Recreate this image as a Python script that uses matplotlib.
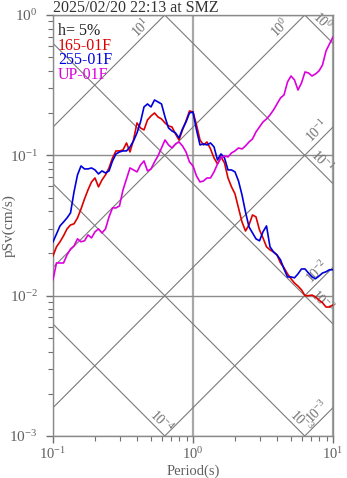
import numpy as np
import matplotlib
matplotlib.use("Agg")
import matplotlib.pyplot as plt
from matplotlib.ticker import LogLocator, NullFormatter

# ---------------- data ----------------
periods = [0.1000, 0.1059, 0.1122, 0.1189, 0.1259, 0.1334, 0.1413, 0.1496, 0.1585, 0.1679,
           0.1778, 0.1884, 0.1995, 0.2113, 0.2239, 0.2371, 0.2512, 0.2661, 0.2818, 0.2985,
           0.3162, 0.3350, 0.3548, 0.3758, 0.3981, 0.4217, 0.4467, 0.4732, 0.5012, 0.5309,
           0.5623, 0.5957, 0.6310, 0.6683, 0.7079, 0.7499, 0.7943, 0.8414, 0.8913, 0.9441,
           1.000, 1.059, 1.122, 1.189, 1.259, 1.334, 1.413, 1.496, 1.585, 1.679,
           1.778, 1.884, 1.995, 2.113, 2.239, 2.371, 2.512, 2.661, 2.818, 2.985,
           3.162, 3.350, 3.548, 3.758, 3.981, 4.217, 4.467, 4.732, 5.012, 5.309,
           5.623, 5.957, 6.310, 6.683, 7.079, 7.499, 7.943, 8.414, 8.913, 9.441,
           10.00]

psv_165 = [0.0192, 0.0223, 0.0242, 0.0267, 0.0299, 0.0319, 0.0325, 0.0358, 0.0415, 0.0489,
           0.0567, 0.0646, 0.0690, 0.0596, 0.0668, 0.0725, 0.0813, 0.0958, 0.1075, 0.1075,
           0.1093, 0.1225, 0.1057, 0.1287, 0.1701, 0.1567, 0.1517, 0.1787, 0.1909, 0.2004,
           0.1877, 0.1817, 0.1701, 0.1620, 0.1593, 0.1421, 0.1287, 0.1517, 0.1758, 0.2071,
           0.2038, 0.1646, 0.1287, 0.1186, 0.1245, 0.1110, 0.0958, 0.0868, 0.0974, 0.0883,
           0.0690, 0.0596, 0.0531, 0.0422, 0.0335, 0.0289, 0.0319, 0.0376, 0.0364, 0.0294,
           0.0258, 0.0223, 0.0212, 0.0205, 0.0195, 0.0171, 0.0158, 0.0143, 0.0132, 0.0123,
           0.0117, 0.0110, 0.0100, 0.0100, 0.0101, 0.0098, 0.0093, 0.0089, 0.0083, 0.0083,
           0.0086]

psv_255 = [0.0242, 0.0275, 0.0314, 0.0335, 0.0358, 0.0389, 0.0549, 0.0725, 0.0840, 0.0800,
           0.0800, 0.0813, 0.0787, 0.0737, 0.0774, 0.0749, 0.0774, 0.0912, 0.1023, 0.1057,
           0.1075, 0.1075, 0.1148, 0.1266, 0.1444, 0.1729, 0.2212, 0.2323, 0.2212, 0.2480,
           0.2401, 0.2323, 0.1877, 0.1567, 0.1492, 0.1444, 0.1330, 0.1542, 0.1729, 0.2004,
           0.2038, 0.1517, 0.1186, 0.1206, 0.1186, 0.1225, 0.1148, 0.0927, 0.1023, 0.0958,
           0.0787, 0.0787, 0.0762, 0.0657, 0.0522, 0.0395, 0.0309, 0.0280, 0.0254, 0.0246,
           0.0285, 0.0314, 0.0223, 0.0205, 0.0195, 0.0180, 0.0155, 0.0136, 0.0136, 0.0134,
           0.0143, 0.0155, 0.0155, 0.0145, 0.0136, 0.0132, 0.0138, 0.0145, 0.0148, 0.0153,
           0.0153]

psv_up = [0.0130, 0.0171, 0.0171, 0.0171, 0.0195, 0.0215, 0.0226, 0.0254, 0.0242, 0.0246,
          0.0271, 0.0258, 0.0285, 0.0299, 0.0280, 0.0299, 0.0364, 0.0422, 0.0422, 0.0436,
          0.0567, 0.0679, 0.0813, 0.0787, 0.0762, 0.0854, 0.0912, 0.0774, 0.0800, 0.0897,
          0.0990, 0.1129, 0.1287, 0.1186, 0.1129, 0.1206, 0.1245, 0.1167, 0.1057, 0.0897,
          0.0840, 0.0713, 0.0646, 0.0657, 0.0690, 0.0690, 0.0762, 0.0868, 0.0958, 0.0990,
          0.0974, 0.1040, 0.1075, 0.1129, 0.1110, 0.1167, 0.1245, 0.1309, 0.1468, 0.1593,
          0.1729, 0.1817, 0.1940, 0.2105, 0.2323, 0.2563, 0.2693, 0.3333, 0.3677, 0.3443,
          0.2922, 0.3279, 0.3927, 0.3863, 0.3677, 0.3800, 0.3994, 0.4404, 0.5540, 0.6220,
          0.6970]

series_names = ["165-01F", "255-01F", "UP-01F"]
series_colors = ["#dd0000", "#0000dd", "#dd00dd"]
damping_label = "h= 5%"
title = "2025/02/20 22:13 at SMZ"

# tripartite reference lines
accel_levels = [1e1, 1e0, 1e-1, 1e-2, 1e-3]        # cm/s^2
accel_labels = ["10$^{1}$", "10$^{0}$", "10$^{-1}$", "10$^{-2}$", "10$^{-3}$"]
disp_levels = [1e0, 1e-1, 1e-2, 1e-3, 1e-4]         # cm
disp_labels = ["10$^{0}$", "10$^{-1}$", "10$^{-2}$", "10$^{-3}$", "10$^{-4}$"]

# ---------------- style ----------------
plt.rcParams['font.family'] = ['Liberation Serif', 'DejaVu Serif']
plt.rcParams['mathtext.fontset'] = 'custom'
plt.rcParams['mathtext.rm'] = 'Liberation Serif'
plt.rcParams['mathtext.it'] = 'Liberation Serif:italic'
plt.rcParams['mathtext.bf'] = 'Liberation Serif:bold'

W, H = 347, 478
fig = plt.figure(figsize=(W / 100, H / 100), dpi=100)
ax = fig.add_axes([53 / W, 1 - 436 / H, 280 / W, 421 / H])

xmin, xmax, ymin, ymax = 0.1, 10.0, 1e-3, 1.0
ax.set_xscale('log')
ax.set_yscale('log')
ax.set_xlim(xmin, xmax)
ax.set_ylim(ymin, ymax)

gray_line = '#7a7a7a'
Tfine = np.logspace(-1, 1, 200)
two_pi = 2 * np.pi

# constant acceleration lines (slope +1)
for a, lab in zip(accel_levels, accel_labels):
    sv = a * Tfine / two_pi
    ax.plot(Tfine, sv, color=gray_line, lw=0.8, zorder=1)
    t_top = two_pi / a  # where Sv reaches top
    if t_top < xmax:
        tl = t_top * 0.74
    else:
        tl = xmax * 0.85
    ax.text(tl, a * tl / two_pi, lab, rotation=45, rotation_mode='anchor',
            ha='center', va='bottom', fontsize=10, color='#707070', zorder=2)

# constant displacement lines (slope -1)
for d, lab in zip(disp_levels, disp_labels):
    sv = two_pi * d / Tfine
    ax.plot(Tfine, sv, color=gray_line, lw=0.8, zorder=1)
    t_bot = two_pi * d / ymin  # where Sv reaches bottom
    if t_bot < xmax:
        tl = t_bot * 0.86
    else:
        tl = xmax * 0.76
    ax.text(tl, two_pi * d / tl, lab, rotation=-45, rotation_mode='anchor',
            ha='center', va='bottom', fontsize=10, color='#707070', zorder=2)

# grid
ax.xaxis.grid(True, which='major', color='#a8a8a8', lw=1.6, zorder=0)
ax.yaxis.grid(True, which='major', color='#8c8c8c', lw=1.0, zorder=0)
ax.set_axisbelow(True)

# spectra
for vals, c in zip([psv_165, psv_255, psv_up], series_colors):
    ax.plot(periods, vals, color=c, lw=1.2, zorder=3)

# ticks
ax.xaxis.set_major_locator(LogLocator(base=10, numticks=10))
ax.yaxis.set_major_locator(LogLocator(base=10, numticks=10))
ax.xaxis.set_minor_locator(LogLocator(base=10, subs=np.arange(2, 10), numticks=20))
ax.yaxis.set_minor_locator(LogLocator(base=10, subs=np.arange(2, 10), numticks=20))
ax.xaxis.set_minor_formatter(NullFormatter())
ax.yaxis.set_minor_formatter(NullFormatter())
ax.tick_params(which='both', direction='out', colors='#707070', labelcolor='#606060',
               labelsize=11, top=False, right=False)
ax.tick_params(which='major', length=5, width=1, pad=3)
ax.tick_params(which='minor', length=3.5, width=0.8)
ax.tick_params(axis='y', which='major', pad=6)
ax.tick_params(axis='x', which='major', pad=2, labelsize=10.5)

for s in ax.spines.values():
    s.set_color('#8a8a8a')
    s.set_linewidth(1.0)

ax.set_xlabel('Period(s)', fontsize=10.5, color='#606060')
ax.xaxis.label.set_va('bottom')
ax.xaxis.set_label_coords(0.5, -(477.5 - 436) / 421)
ax.set_ylabel('pSv(cm/s)', fontsize=11, color='#606060')
ax.yaxis.label.set_va('center')
ax.yaxis.set_label_coords(-(53 - 9) / 280, 0.5)

# legend-like labels
legend_texts = [damping_label] + series_names
legend_colors = ['#222222'] + series_colors
for i, (t, c) in enumerate(zip(legend_texts, legend_colors)):
    ax.text(0.018, 0.962 - i * 0.0345, t, transform=ax.transAxes, color=c,
            fontsize=11.5, ha='left', va='center', zorder=4)

fig.text(53 / W, 1 - 11.5 / H, title, fontsize=11.5, color='#333333',
         ha='left', va='baseline')

fig.savefig('out.png', dpi=100)
